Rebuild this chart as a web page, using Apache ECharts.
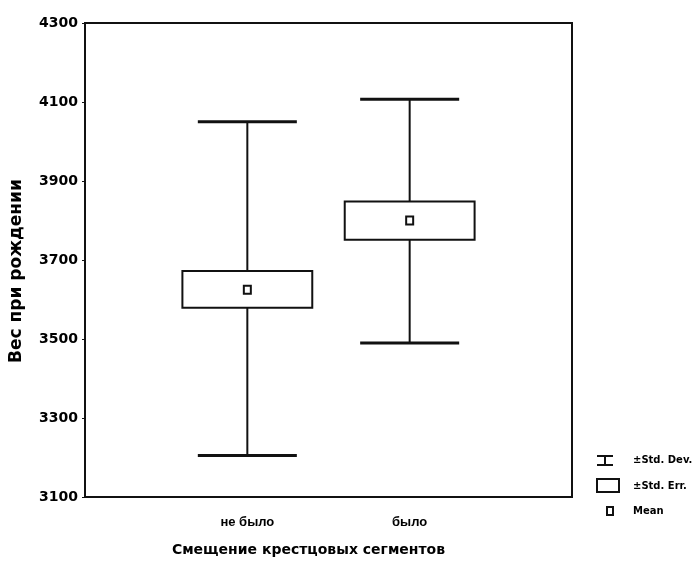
<!DOCTYPE html>
<html>
<head>
<meta charset="utf-8">
<script src="https://cdn.jsdelivr.net/npm/echarts@6/dist/echarts.min.js"></script>
<style>html,body{margin:0;padding:0;background:#fff}#c{width:698px;height:567px}</style>
</head>
<body>
<div id="c"></div>
<script>
const categories = ['не было', 'было'];
const meanVals = [3625, 3800];
const seLow = [3579, 3751];
const seHigh = [3672, 3848];
const sdLow = [3205, 3490];
const sdHigh = [4050, 4107];
const yTicks = [3100, 3300, 3500, 3700, 3900, 4100, 4300];

const data = categories.map((c, i) => [i + 1, meanVals[i], seLow[i], seHigh[i], sdLow[i], sdHigh[i]]);
const FONT = 'DejaVu Sans';
const LC = '#111';

const chart = echarts.init(document.getElementById('c'));
chart.setOption({
  animation: false,
  backgroundColor: '#fff',
  grid: { left: 85, right: 126, top: 23, bottom: 70, show: true, borderColor: LC, borderWidth: 2 },
  xAxis: {
    type: 'value', min: 0, max: 3, interval: 1,
    name: 'Смещение крестцовых сегментов', nameLocation: 'middle', nameGap: 46,
    nameTextStyle: { fontFamily: FONT, fontWeight: 'bold', fontSize: 14, color: '#000', padding: [0, 40, 0, 0] },
    axisLine: { show: true, lineStyle: { color: LC, width: 2 } },
    axisTick: { show: false },
    splitLine: { show: false },
    axisLabel: { margin: 19, fontFamily: 'Liberation Sans', fontWeight: 'bold', fontSize: 13, color: '#000',
      formatter: v => categories[v - 1] || '' }
  },
  yAxis: {
    type: 'value', min: yTicks[0], max: yTicks[yTicks.length - 1], interval: 200,
    name: 'Вес при рождении', nameLocation: 'middle', nameGap: 60, nameRotate: 90,
    nameTextStyle: { fontFamily: FONT, fontWeight: 'bold', fontSize: 17, color: '#000', padding: [0, 22, 0, 0] },
    axisLine: { show: true, lineStyle: { color: LC, width: 2 } },
    axisTick: { show: true, length: 3, lineStyle: { color: LC, width: 1 } },
    splitLine: { show: false },
    axisLabel: { margin: 7, fontFamily: FONT, fontWeight: 'bold', fontSize: 14, color: '#000',
      formatter: v => String(v) }
  },
  series: [{
    type: 'custom',
    data: data,
    encode: { x: 0, y: [1, 2, 3, 4, 5] },
    renderItem: function (params, api) {
      const x = api.value(0);
      const band = api.size([1, 0])[0];
      const boxW = band * 0.8, capW = band * 0.61;
      const cx = api.coord([x, api.value(1)])[0];
      const yMean = api.coord([x, api.value(1)])[1];
      const ySeL = api.coord([x, api.value(2)])[1];
      const ySeH = api.coord([x, api.value(3)])[1];
      const ySdL = api.coord([x, api.value(4)])[1];
      const ySdH = api.coord([x, api.value(5)])[1];
      const ls = { stroke: LC, lineWidth: 2, fill: null };
      return {
        type: 'group',
        children: [
          { type: 'line', shape: { x1: cx, y1: ySdH, x2: cx, y2: ySeH }, style: ls },
          { type: 'line', shape: { x1: cx, y1: ySeL, x2: cx, y2: ySdL }, style: ls },
          { type: 'line', shape: { x1: cx - capW / 2, y1: ySdH, x2: cx + capW / 2, y2: ySdH }, style: { stroke: LC, lineWidth: 3 } },
          { type: 'line', shape: { x1: cx - capW / 2, y1: ySdL, x2: cx + capW / 2, y2: ySdL }, style: { stroke: LC, lineWidth: 3 } },
          { type: 'rect', shape: { x: cx - boxW / 2, y: ySeH, width: boxW, height: ySeL - ySeH }, style: { stroke: LC, lineWidth: 2, fill: '#fff' } },
          { type: 'rect', shape: { x: cx - 3.5, y: yMean - 4, width: 7, height: 8 }, style: { stroke: LC, lineWidth: 2, fill: '#fff' } }
        ]
      };
    }
  }],
  graphic: [
    { type: 'line', shape: { x1: 597, y1: 456, x2: 613, y2: 456 }, style: { stroke: LC, lineWidth: 2 } },
    { type: 'line', shape: { x1: 605, y1: 456, x2: 605, y2: 465 }, style: { stroke: LC, lineWidth: 2 } },
    { type: 'line', shape: { x1: 597, y1: 465, x2: 613, y2: 465 }, style: { stroke: LC, lineWidth: 2 } },
    { type: 'text', left: 633, top: 455, style: { text: '±Std. Dev.', font: 'bold 10px "DejaVu Sans"', fill: '#000' } },
    { type: 'rect', shape: { x: 597, y: 479, width: 22, height: 13 }, style: { stroke: LC, lineWidth: 2, fill: '#fff' } },
    { type: 'text', left: 633, top: 481, style: { text: '±Std. Err.', font: 'bold 10px "DejaVu Sans"', fill: '#000' } },
    { type: 'rect', shape: { x: 607, y: 507, width: 6, height: 8 }, style: { stroke: LC, lineWidth: 2, fill: '#fff' } },
    { type: 'text', left: 633, top: 506, style: { text: 'Mean', font: 'bold 10px "DejaVu Sans"', fill: '#000' } }
  ]
});
</script>
</body>
</html>
